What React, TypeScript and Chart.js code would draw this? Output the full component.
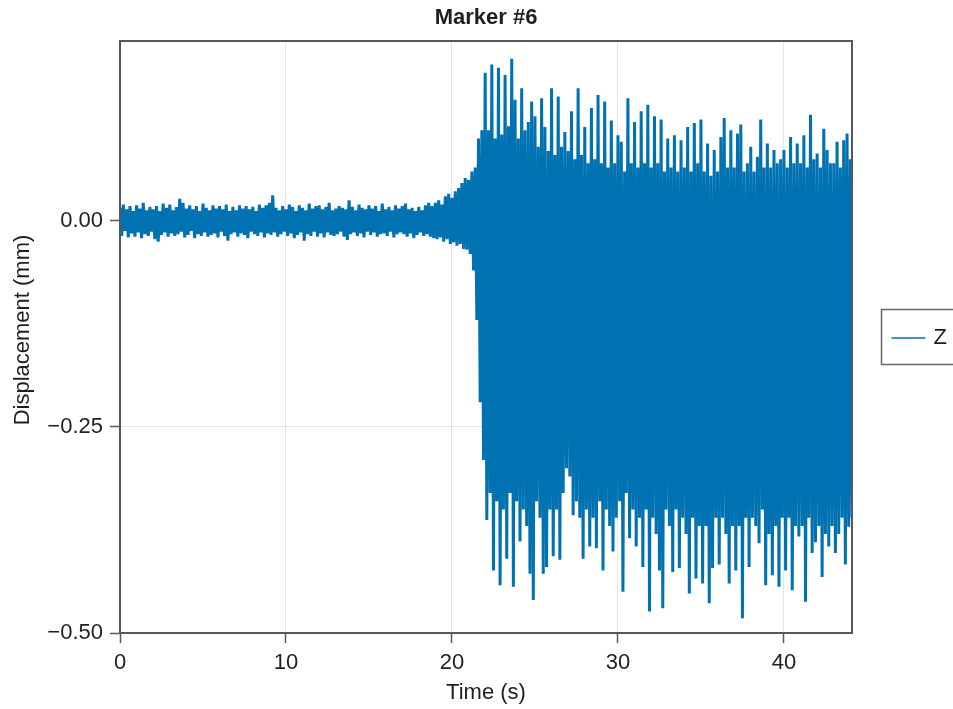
import { useEffect, useRef } from "react";
import { Chart, registerables } from "chart.js";

Chart.register(...registerables);

const TITLE = "Marker #6";
const SERIES_LABEL = "Z";
const X_TITLE = "Time (s)";
const Y_TITLE = "Displacement (mm)";
const X_TICKS = [0, 10, 20, 30, 40];
const Y_TICKS = [-0.5, -0.25, 0];
const X_MIN = 0;
const X_MAX = 44.1;
const Y_MIN = -0.5;
const Y_MAX = 0.2184;
const SAMPLE_STEP = 0.1; // seconds between samples

// Z displacement (mm), 0.0 s – 18.9 s
const quietZ = [
  0.016, -0.018, 0.020, -0.012, 0.014, -0.020, 0.018, -0.015, 0.012, -0.019,
  0.019, -0.014, 0.015, -0.021, 0.022, -0.016, 0.013, -0.018, 0.017, -0.013,
  0.014, -0.022, 0.018, -0.025, 0.012, -0.017, 0.021, -0.014, 0.016, -0.019,
  0.020, -0.015, 0.013, -0.018, 0.017, -0.016, 0.027, -0.013, 0.022, -0.020,
  0.015, -0.017, 0.019, -0.012, 0.014, -0.021, 0.018, -0.016, 0.012, -0.018,
  0.021, -0.014, 0.016, -0.019, 0.013, -0.017, 0.019, -0.015, 0.015, -0.020,
  0.018, -0.013, 0.014, -0.018, 0.020, -0.024, 0.012, -0.016, 0.017, -0.014,
  0.013, -0.019, 0.019, -0.015, 0.015, -0.017, 0.018, -0.021, 0.014, -0.013,
  0.017, -0.016, 0.012, -0.018, 0.020, -0.014, 0.016, -0.020, 0.019, -0.015,
  0.022, -0.017, 0.031, -0.014, 0.016, -0.019, 0.013, -0.016, 0.018, -0.013,
  0.014, -0.018, 0.020, -0.015, 0.017, -0.021, 0.012, -0.017, 0.019, -0.014,
  0.016, -0.024, 0.013, -0.016, 0.021, -0.018, 0.015, -0.013, 0.018, -0.019,
  0.019, -0.015, 0.014, -0.020, 0.017, -0.014, 0.022, -0.017, 0.013, -0.018,
  0.015, -0.016, 0.018, -0.013, 0.016, -0.019, 0.014, -0.023, 0.025, -0.016,
  0.017, -0.014, 0.013, -0.018, 0.020, -0.015, 0.016, -0.020, 0.014, -0.013,
  0.019, -0.017, 0.015, -0.014, 0.018, -0.019, 0.012, -0.016, 0.021, -0.015,
  0.014, -0.018, 0.017, -0.013, 0.013, -0.020, 0.019, -0.016, 0.015, -0.014,
  0.018, -0.016, 0.021, -0.019, 0.014, -0.015, 0.016, -0.021, 0.012, -0.017,
  0.017, -0.014, 0.013, -0.018, 0.019, -0.016, 0.022, -0.019, 0.018, -0.021,
];

// Z displacement (mm), 19.0 s – 21.9 s (onset)
const onsetZ = [
  0.022, -0.022, 0.025, -0.020, 0.020, -0.025, 0.030, -0.022, 0.033, -0.028,
  0.028, -0.026, 0.036, -0.030, 0.040, -0.028, 0.046, -0.034, 0.052, -0.035,
  0.050, -0.040, 0.060, -0.060, 0.065, -0.120, 0.100, -0.220, 0.110, -0.290,
];

// Z displacement (mm), 22.0 s – 44.1 s (strong motion)
const strongZ = [
  0.180, -0.363, 0.110, -0.330, 0.190, -0.424, 0.100, -0.340, 0.186, -0.442,
  0.105, -0.350, 0.177, -0.410, 0.115, -0.330, 0.197, -0.444, 0.147, -0.340,
  0.100, -0.389, 0.161, -0.350, 0.110, -0.370, 0.120, -0.428, 0.145, -0.460,
  0.127, -0.340, 0.090, -0.360, 0.149, -0.428, 0.114, -0.420, 0.085, -0.350,
  0.161, -0.407, 0.080, -0.350, 0.151, -0.411, 0.090, -0.330, 0.108, -0.300,
  0.085, -0.310, 0.133, -0.357, 0.075, -0.340, 0.161, -0.360, 0.080, -0.410,
  0.114, -0.350, 0.070, -0.395, 0.137, -0.360, 0.075, -0.397, 0.153, -0.340,
  0.070, -0.424, 0.145, -0.350, 0.065, -0.370, 0.122, -0.401, 0.070, -0.360,
  0.104, -0.340, 0.096, -0.450, 0.060, -0.330, 0.149, -0.385, 0.070, -0.350,
  0.120, -0.395, 0.065, -0.360, 0.133, -0.420, 0.070, -0.350, 0.141, -0.474,
  0.065, -0.360, 0.127, -0.380, 0.070, -0.424, 0.123, -0.470, 0.060, -0.350,
  0.100, -0.370, 0.065, -0.426, 0.104, -0.350, 0.060, -0.421, 0.098, -0.360,
  0.065, -0.380, 0.114, -0.452, 0.060, -0.360, 0.119, -0.434, 0.070, -0.370,
  0.123, -0.440, 0.060, -0.370, 0.094, -0.464, 0.055, -0.421, 0.086, -0.360,
  0.060, -0.417, 0.102, -0.360, 0.125, -0.380, 0.065, -0.440, 0.110, -0.370,
  0.065, -0.424, 0.106, -0.370, 0.117, -0.482, 0.060, -0.360, 0.070, -0.420,
  0.090, -0.360, 0.060, -0.370, 0.078, -0.391, 0.123, -0.350, 0.065, -0.442,
  0.094, -0.380, 0.065, -0.430, 0.086, -0.370, 0.070, -0.444, 0.075, -0.360,
  0.086, -0.424, 0.065, -0.360, 0.102, -0.448, 0.070, -0.370, 0.094, -0.383,
  0.070, -0.370, 0.104, -0.462, 0.065, -0.360, 0.129, -0.403, 0.075, -0.390,
  0.082, -0.370, 0.065, -0.432, 0.112, -0.380, 0.086, -0.395, 0.070, -0.370,
  0.070, -0.403, 0.096, -0.380, 0.065, -0.360, 0.098, -0.417, 0.106, -0.371,
  0.075, -0.360,
];

const LINE_COLOR = "#0072B2";
const FONT = "'Liberation Sans', Arial, Helvetica, sans-serif";
const TEXT_COLOR = "#1f1f1f";
const FRAME_COLOR = "#585858";

const fmtY = (v: number) => {
  const s = Math.abs(v).toFixed(2);
  return v < 0 ? "\u2212" + s : s;
};

const framePlugin = {
  id: "frame",
  afterDatasetsDraw(chart: any) {
    const { ctx, chartArea } = chart;
    ctx.save();
    ctx.strokeStyle = FRAME_COLOR;
    ctx.lineWidth = 2;
    ctx.strokeRect(chartArea.left, chartArea.top, chartArea.right - chartArea.left, chartArea.bottom - chartArea.top);
    ctx.restore();
  },
};

const yTitlePlugin = {
  id: "yTitle",
  afterDraw(chart: any) {
    const { ctx, chartArea } = chart;
    ctx.save();
    ctx.translate(23, (chartArea.top + chartArea.bottom) / 2 - 7);
    ctx.rotate(-Math.PI / 2);
    ctx.fillStyle = TEXT_COLOR;
    ctx.font = `22px ${FONT}`;
    ctx.textAlign = "center";
    ctx.textBaseline = "middle";
    ctx.fillText(Y_TITLE, 0, 0);
    ctx.restore();
  },
};

const legendPlugin = {
  id: "boxLegend",
  afterDraw(chart: any) {
    const { ctx, chartArea } = chart;
    const ds = chart.data.datasets[0];
    const x0 = chartArea.right + 29.5;
    const yMid = (chartArea.top + chartArea.bottom) / 2;
    ctx.save();
    ctx.strokeStyle = "#666";
    ctx.lineWidth = 1.5;
    ctx.strokeRect(x0, yMid - 27.5, 100, 55);
    ctx.strokeStyle = ds.borderColor;
    ctx.lineWidth = 1.6;
    ctx.beginPath();
    ctx.moveTo(x0 + 10, yMid + 1);
    ctx.lineTo(x0 + 44, yMid + 1);
    ctx.stroke();
    ctx.fillStyle = TEXT_COLOR;
    ctx.font = `22px ${FONT}`;
    ctx.textBaseline = "middle";
    ctx.textAlign = "left";
    ctx.fillText(ds.label, x0 + 52, yMid + 1);
    ctx.restore();
  },
};

export default function App() {
  const ref = useRef<HTMLCanvasElement | null>(null);

  useEffect(() => {
    const canvas = ref.current;
    if (!canvas) return;
    const values = [...quietZ, ...onsetZ, ...strongZ];
    const points = values.map((v, i) => ({ x: Math.round(i * SAMPLE_STEP * 100) / 100, y: v }));

    const chart = new Chart(canvas, {
      type: "line",
      data: {
        datasets: [
          {
            label: SERIES_LABEL,
            data: points,
            borderColor: LINE_COLOR,
            backgroundColor: LINE_COLOR,
            borderWidth: 3,
            borderJoinStyle: "bevel",
            borderCapStyle: "butt",
            pointRadius: 0,
            tension: 0,
            fill: false,
          },
        ],
      },
      options: {
        animation: false,
        responsive: false,
        devicePixelRatio: 1,
        parsing: false,
        normalized: true,
        layout: { padding: { left: 0, right: 101, top: 0, bottom: 0 } },
        plugins: {
          legend: { display: false },
          tooltip: { enabled: false },
          title: {
            display: true,
            text: TITLE,
            fullSize: false,
            color: TEXT_COLOR,
            font: { family: FONT, size: 22, weight: "bold", lineHeight: 1.2 },
            padding: { top: 5, bottom: 9.6 },
          },
        },
        scales: {
          x: {
            type: "linear",
            min: X_MIN,
            max: X_MAX,
            afterBuildTicks: (scale: any) => {
              scale.ticks = X_TICKS.map((v) => ({ value: v }));
            },
            afterFit: (scale: any) => {
              scale.height = 76;
            },
            ticks: {
              color: TEXT_COLOR,
              font: { family: FONT, size: 22 },
              padding: 7,
              maxRotation: 0,
              callback: (v: any) => String(v),
            },
            grid: {
              color: "rgba(0,0,0,0.1)",
              lineWidth: 1,
              tickColor: FRAME_COLOR,
              tickLength: 10,
              tickWidth: 1.5,
            },
            border: { display: false },
            title: {
              display: true,
              text: X_TITLE,
              color: TEXT_COLOR,
              font: { family: FONT, size: 22, lineHeight: 1.2 },
              padding: { top: 0, bottom: 3 },
            },
          },
          y: {
            type: "linear",
            min: Y_MIN,
            max: Y_MAX,
            afterBuildTicks: (scale: any) => {
              scale.ticks = Y_TICKS.map((v) => ({ value: v }));
            },
            afterFit: (scale: any) => {
              scale.width = 120;
            },
            ticks: {
              color: TEXT_COLOR,
              font: { family: FONT, size: 22 },
              padding: 7,
              callback: (v: any) => fmtY(Number(v)),
            },
            grid: {
              color: "rgba(0,0,0,0.1)",
              lineWidth: 1,
              tickColor: FRAME_COLOR,
              tickLength: 10,
              tickWidth: 1.5,
            },
            border: { display: false },
            title: { display: false, text: Y_TITLE },
          },
        },
      },
      plugins: [framePlugin, legendPlugin, yTitlePlugin],
    } as any);

    return () => chart.destroy();
  }, []);

  return (
    <div style={{ position: "fixed", left: 0, top: 0, width: 953, height: 709, background: "#fff" }}>
      <canvas ref={ref} width={953} height={709} style={{ width: 953, height: 709, display: "block" }} />
    </div>
  );
}
